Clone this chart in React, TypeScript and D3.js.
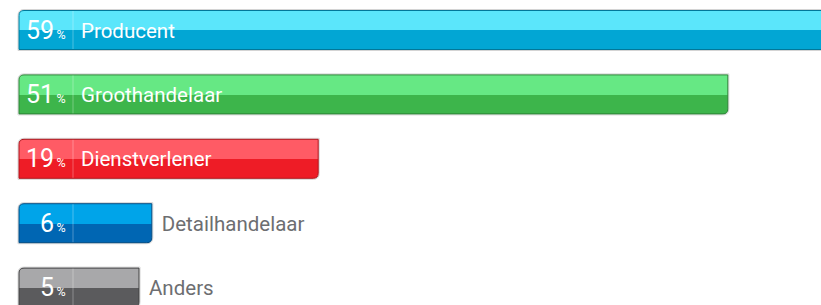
import React, { useEffect, useRef } from 'react';
import * as d3 from 'd3';

const categories = ['Producent', 'Groothandelaar', 'Dienstverlener', 'Detailhandelaar', 'Anders'];
const values = [59, 51, 19, 6, 5];
const topColors = ['#5be6fb', '#66e884', '#ff5b65', '#00a4e9', '#a8a8aa'];
const bottomColors = ['#02a6d4', '#3db54b', '#ee1c26', '#0066b3', '#5b5b5d'];

const WIDTH = 821;
const HEIGHT = 305;

function barPath(w: number, h: number, r: number) {
  // rounded at top-left and bottom-right only
  return `M0,${r} Q0,0 ${r},0 L${w},0 L${w},${h - r} Q${w},${h} ${w - r},${h} L0,${h} Z`;
}

export default function App() {
  const ref = useRef<SVGSVGElement>(null);

  useEffect(() => {
    const svg = d3.select(ref.current);
    svg.selectAll('*').remove();

    const margin = { left: 19, top: 10.5 };
    const barH = 39;
    const labelX = 62;
    const font = 'Roboto, sans-serif';

    const x = d3.scaleLinear().domain([0, 100]).range([56, 56 + 1280]);
    const y = d3.scaleBand<string>()
      .domain(categories)
      .range([0, 64.4 * categories.length])
      .paddingInner(0);

    const defs = svg.append('defs');
    categories.forEach((c, i) => {
      const g = defs.append('linearGradient')
        .attr('id', `grad${i}`)
        .attr('x1', 0).attr('y1', 0).attr('x2', 0).attr('y2', 1);
      g.append('stop').attr('offset', '51%').attr('stop-color', topColors[i]);
      g.append('stop').attr('offset', '51%').attr('stop-color', bottomColors[i]);
    });

    const main = svg.append('g')
      .attr('transform', `translate(${margin.left}, ${margin.top})`);

    const rows = main.selectAll('g.row')
      .data(categories)
      .enter()
      .append('g')
      .attr('class', 'row')
      .attr('transform', d => `translate(0, ${y(d)})`);

    // outer light shadow
    rows.append('path')
      .attr('d', (d, i) => barPath(x(values[i]) + 2, barH + 2, 6))
      .attr('transform', 'translate(-1,-1)')
      .attr('fill', 'none')
      .attr('stroke', '#d4d4d4')
      .attr('stroke-width', 1);

    rows.append('path')
      .attr('d', (d, i) => barPath(x(values[i]), barH, 5))
      .attr('fill', (d, i) => `url(#grad${i})`)
      .attr('stroke', (d, i) => d3.color(bottomColors[i])!.darker(0.9).toString())
      .attr('stroke-width', 1);

    // divider
    rows.append('line')
      .attr('x1', 54).attr('x2', 54)
      .attr('y1', 0.5).attr('y2', barH - 0.5)
      .attr('stroke', '#fff')
      .attr('stroke-opacity', 0.3);

    // value
    rows.append('text')
      .attr('x', 35)
      .attr('y', 28)
      .attr('text-anchor', 'end')
      .attr('fill', '#fff')
      .style('font-family', font)
      .style('font-size', '25px')
      .text((d, i) => values[i]);

    rows.append('text')
      .attr('x', 37.5)
      .attr('y', 28)
      .attr('fill', '#fff')
      .style('font-family', font)
      .style('font-size', '12.5px')
      .text('%');

    // labels
    rows.append('text')
      .style('font-family', font)
      .style('font-size', '20.5px')
      .text(d => d)
      .each(function (d, i) {
        const t = d3.select(this);
        const len = (this as SVGTextElement).getComputedTextLength();
        const w = x(values[i]);
        const inside = w - labelX > len + 10;
        t.attr('x', inside ? labelX : w + 10)
          .attr('y', 27.2)
          .attr('fill', inside ? '#fff' : '#6d6e71');
      });
  }, []);

  return (
    <svg
      ref={ref}
      width={WIDTH}
      height={HEIGHT}
      style={{ position: 'absolute', left: 0, top: 0 }}
    />
  );
}
